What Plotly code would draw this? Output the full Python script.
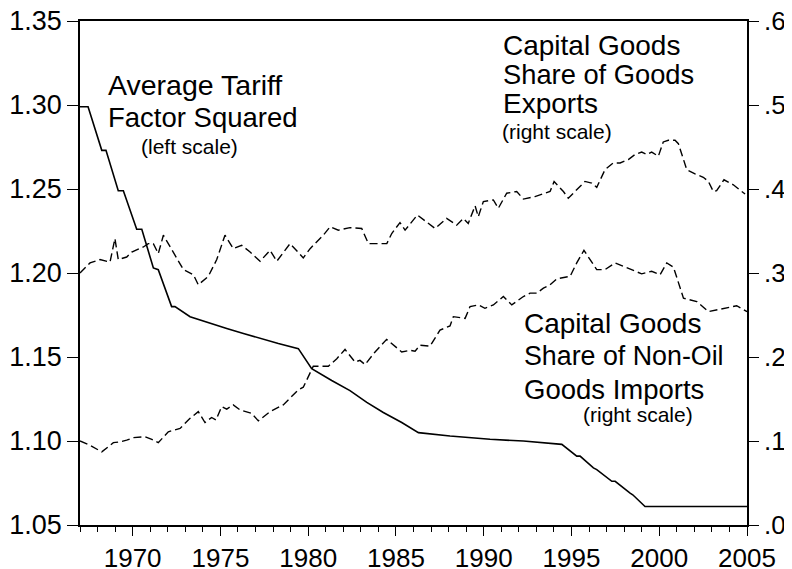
import plotly.graph_objects as go

# ---- data ----
tariff_years = [1967.00, 1967.46, 1968.24, 1968.48, 1969.18, 1969.47, 1970.23, 1970.52,
                1971.18, 1971.46, 1972.22, 1972.41, 1973.27, 1974.41, 1975.36, 1976.31,
                1977.26, 1978.30, 1979.44, 1980.20, 1981.34, 1982.38, 1983.34, 1984.28,
                1985.33, 1986.28, 1988.08, 1990.36, 1992.26, 1994.45, 1995.30, 1995.49,
                1996.25, 1996.44, 1997.30, 1997.49, 1998.34, 1998.49, 1999.19, 2005.00]
tariff_values = [1.299, 1.299, 1.273, 1.273, 1.249, 1.249, 1.226, 1.226,
                 1.203, 1.202, 1.180, 1.180, 1.174, 1.170, 1.167, 1.164,
                 1.161, 1.158, 1.155, 1.143, 1.136, 1.130, 1.123, 1.117,
                 1.111, 1.105, 1.103, 1.101, 1.100, 1.098, 1.091, 1.091,
                 1.084, 1.083, 1.076, 1.076, 1.069, 1.068, 1.061, 1.061]

exports_years = [1967.00, 1967.57, 1968.14, 1968.71, 1968.99, 1969.18, 1969.66, 1969.95,
                 1970.61, 1970.89, 1971.18, 1971.46, 1971.75, 1972.13, 1972.89, 1973.46,
                 1973.74, 1974.31, 1974.79, 1975.26, 1975.73, 1976.21, 1976.69, 1977.26,
                 1977.83, 1978.21, 1978.97, 1979.72, 1980.11, 1980.86, 1981.25, 1981.72,
                 1982.38, 1983.05, 1983.43, 1984.48, 1984.76, 1985.23, 1985.52, 1986.22,
                 1987.23, 1987.89, 1988.46, 1988.84, 1989.12, 1989.51, 1989.69, 1989.98,
                 1990.55, 1990.83, 1991.31, 1991.88, 1992.26, 1992.92, 1993.78, 1994.01,
                 1994.54, 1994.82, 1995.30, 1995.77, 1996.15, 1996.44, 1996.91, 1997.38,
                 1997.77, 1998.24, 1998.62, 1999.00, 1999.29, 1999.57, 1999.95, 2000.23,
                 2000.52, 2000.90, 2001.09, 2001.57, 2002.04, 2002.51, 2002.80, 2003.08,
                 2003.27, 2003.69, 2004.22, 2004.89]
exports_values = [0.300, 0.312, 0.316, 0.313, 0.341, 0.316, 0.319, 0.325,
                  0.331, 0.335, 0.335, 0.323, 0.345, 0.331, 0.304, 0.298,
                  0.286, 0.296, 0.316, 0.345, 0.329, 0.333, 0.325, 0.314,
                  0.327, 0.314, 0.335, 0.318, 0.329, 0.345, 0.355, 0.351,
                  0.354, 0.353, 0.335, 0.335, 0.347, 0.360, 0.351, 0.369,
                  0.353, 0.365, 0.357, 0.365, 0.359, 0.380, 0.367, 0.385,
                  0.387, 0.377, 0.395, 0.397, 0.388, 0.391, 0.397, 0.409,
                  0.397, 0.389, 0.399, 0.409, 0.407, 0.402, 0.423, 0.431,
                  0.431, 0.435, 0.441, 0.444, 0.441, 0.444, 0.439, 0.456,
                  0.458, 0.458, 0.454, 0.423, 0.418, 0.414, 0.409, 0.397,
                  0.398, 0.411, 0.405, 0.394]

imports_years = [1967.00, 1967.57, 1968.24, 1968.90, 1969.28, 1969.66, 1970.04, 1970.70,
                 1971.09, 1971.46, 1972.03, 1972.70, 1973.27, 1973.74, 1974.12, 1974.50,
                 1974.75, 1975.07, 1975.36, 1975.73, 1976.12, 1976.78, 1977.16, 1977.83,
                 1978.58, 1978.97, 1979.44, 1979.72, 1980.29, 1981.15, 1981.63, 1982.10,
                 1982.67, 1982.95, 1983.24, 1983.81, 1984.47, 1985.33, 1985.80, 1986.09,
                 1986.37, 1986.94, 1987.51, 1988.08, 1988.27, 1988.94, 1989.22, 1989.69,
                 1990.07, 1990.55, 1991.12, 1991.60, 1992.26, 1992.64, 1993.02, 1993.40,
                 1993.78, 1994.16, 1994.92, 1995.30, 1995.71, 1996.44, 1996.91, 1997.48,
                 1997.95, 1998.52, 1999.00, 1999.57, 2000.05, 2000.43, 2000.81, 2001.38,
                 2002.14, 2002.80, 2003.27, 2003.84, 2004.41, 2005.00]
imports_values = [0.100, 0.095, 0.087, 0.098, 0.099, 0.101, 0.104, 0.105,
                  0.102, 0.098, 0.111, 0.115, 0.127, 0.135, 0.122, 0.128,
                  0.125, 0.141, 0.138, 0.143, 0.137, 0.133, 0.124, 0.135,
                  0.143, 0.151, 0.161, 0.164, 0.189, 0.189, 0.198, 0.209,
                  0.194, 0.196, 0.191, 0.206, 0.221, 0.206, 0.208, 0.207,
                  0.214, 0.213, 0.232, 0.237, 0.248, 0.246, 0.260, 0.262,
                  0.258, 0.262, 0.272, 0.262, 0.272, 0.276, 0.276, 0.282,
                  0.286, 0.293, 0.296, 0.312, 0.327, 0.304, 0.304, 0.312,
                  0.308, 0.304, 0.299, 0.302, 0.298, 0.312, 0.307, 0.270,
                  0.266, 0.254, 0.256, 0.258, 0.261, 0.254]

left_ticks = [1.05, 1.10, 1.15, 1.20, 1.25, 1.30, 1.35]
left_labels = ["1.05", "1.10", "1.15", "1.20", "1.25", "1.30", "1.35"]
right_ticks = [0.0, 0.1, 0.2, 0.3, 0.4, 0.5, 0.6]
right_labels = [".0", ".1", ".2", ".3", ".4", ".5", ".6"]
year_ticks = [1970, 1975, 1980, 1985, 1990, 1995, 2000, 2005]

FONT = "Liberation Sans, Arial, Helvetica, sans-serif"
OFF = 8                      # page body margin offset
W, H = 792 - OFF, 569 - OFF  # figure fits the window after the offset
# plot area in window pixels: left 80, right 747, top 21, bottom 525
L = 80 - OFF
T = 21 - OFF
R = W - (747 - OFF)
B = H - (525 - OFF)

fig = go.Figure()
fig.add_trace(go.Scatter(x=tariff_years, y=tariff_values, mode="lines",
                         line=dict(color="black", width=1.6), yaxis="y",
                         showlegend=False, hoverinfo="skip"))
fig.add_trace(go.Scatter(x=exports_years, y=exports_values, mode="lines",
                         line=dict(color="black", width=1.4, dash="8px,4px"), yaxis="y2",
                         showlegend=False, hoverinfo="skip"))
fig.add_trace(go.Scatter(x=imports_years, y=imports_values, mode="lines",
                         line=dict(color="black", width=1.4, dash="8px,4px"), yaxis="y2",
                         showlegend=False, hoverinfo="skip"))

pw = W - L - R
ph = H - T - B

def px(xp):
    return (xp - OFF - L) / pw

def py(yp):
    return (H - B - (yp - OFF)) / ph

notes = [
    ("Average Tariff", 106, 85, 28.5),
    ("Factor Squared", 106, 118, 27.5),
    ("(left scale)", 139, 146, 21),
    ("Capital Goods", 501, 45, 28),
    ("Share of Goods", 501, 75, 27.3),
    ("Exports", 501, 104, 28),
    ("(right scale)", 500, 131, 21),
    ("Capital Goods", 522, 323, 28),
    ("Share of Non-Oil", 522, 356, 26.8),
    ("Goods Imports", 522, 389, 27.5),
    ("(right scale)", 581, 414, 21),
]
for text, xp, yp, size in notes:
    fig.add_annotation(text=text, xref="paper", yref="paper", x=px(xp), y=py(yp),
                       xanchor="left", yanchor="middle", showarrow=False,
                       font=dict(family=FONT, size=size, color="black"))

fig.update_layout(
    width=W, height=H,
    margin=dict(l=L, r=R, t=T, b=B, pad=0, autoexpand=False),
    paper_bgcolor="white", plot_bgcolor="white",
    font=dict(family=FONT, color="black"),
    xaxis=dict(range=[1967, 2005], tickvals=year_ticks, ticktext=[str(v) for v in year_ticks],
               ticks="outside", ticklen=9, tickwidth=1.2, tickcolor="black",
               minor=dict(dtick=1, tick0=1967, ticks="outside", ticklen=5, tickwidth=1.2, tickcolor="black", showgrid=False),
               showline=True, linecolor="black", linewidth=1.5, mirror=True, automargin=False,
               ticklabeloverflow="allow",
               showgrid=False, zeroline=False, tickfont=dict(size=26, family=FONT)),
    yaxis=dict(range=[1.05, 1.35], tickvals=left_ticks, ticktext=left_labels,
               ticks="outside", ticklen=11, tickwidth=1.2, tickcolor="black",
               showline=True, linecolor="black", linewidth=1.5, mirror=False, automargin=False,
               ticklabeloverflow="allow",
               showgrid=False, zeroline=False, tickfont=dict(size=27, family=FONT)),
    yaxis2=dict(range=[0, 0.6], tickvals=right_ticks, ticktext=right_labels,
                overlaying="y", side="right", automargin=False,
                ticks="outside", ticklen=10, tickwidth=1.2, tickcolor="black",
                ticklabeloverflow="allow",
                showline=True, linecolor="black", linewidth=1.5,
                showgrid=False, zeroline=False, tickfont=dict(size=26, family=FONT)),
)

fig.write_html("out.html")
